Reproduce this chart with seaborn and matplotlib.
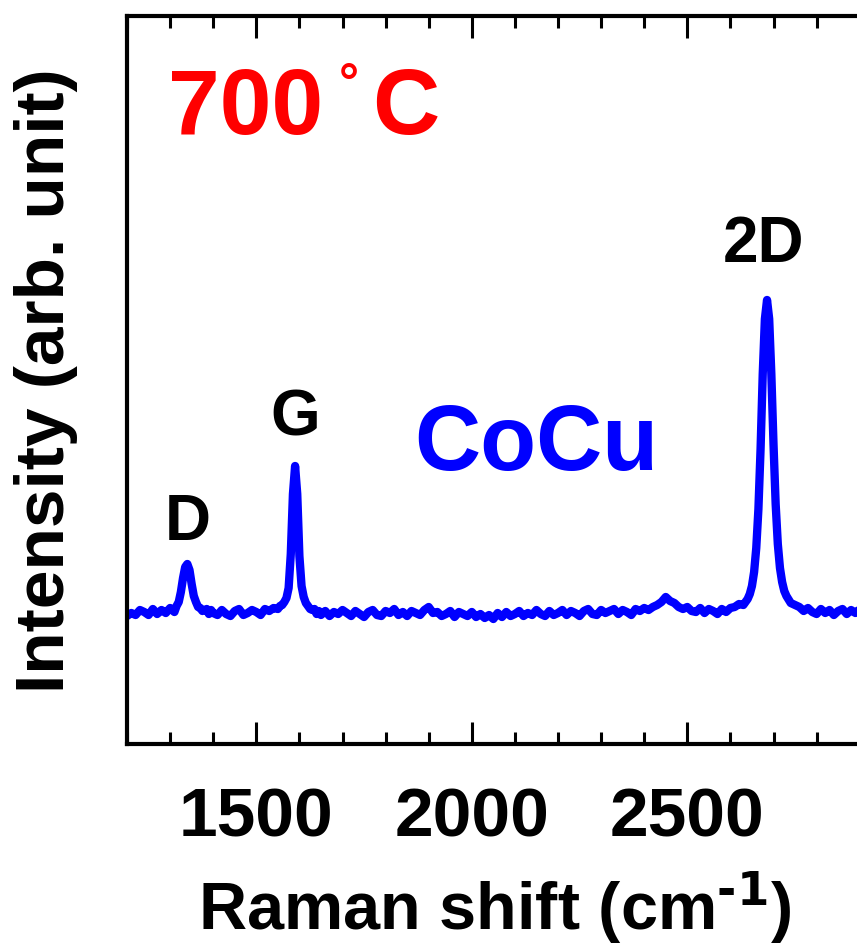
import matplotlib
matplotlib.use("Agg")
import matplotlib.pyplot as plt
import seaborn as sns
import pandas as pd
from matplotlib.ticker import MultipleLocator

# ---- data (intensity in arbitrary units) ----
raman_shift = [
    1200, 1210, 1220, 1230, 1240, 1250, 1260, 1270, 1280, 1290, 1300,
    1305, 1310, 1315, 1320, 1325, 1330, 1335, 1340, 1345, 1350, 1355, 1360,
    1365, 1370, 1375, 1380, 1385, 1390, 1395, 1400,
    1410, 1420, 1430, 1440, 1450, 1460, 1470, 1480, 1490, 1500, 1510, 1520,
    1530, 1540, 1550,
    1555, 1560, 1565, 1570, 1575, 1580, 1585, 1590, 1595, 1600, 1605, 1610,
    1615, 1620, 1625, 1630, 1635, 1640, 1645, 1650,
    1660, 1670, 1680, 1690, 1700, 1710, 1720, 1730, 1740, 1750, 1760, 1770,
    1780, 1790, 1800, 1810, 1820, 1830, 1840, 1850, 1860, 1870, 1880, 1890,
    1900, 1910, 1920, 1930, 1940, 1950, 1960, 1970, 1980, 1990, 2000, 2010,
    2020, 2030, 2040, 2050, 2060, 2070, 2080, 2090, 2100, 2110, 2120, 2130,
    2140, 2150, 2160, 2170, 2180, 2190, 2200, 2210, 2220, 2230, 2240, 2250,
    2260, 2270, 2280, 2290, 2300, 2310, 2320, 2330, 2340, 2350, 2360, 2370,
    2380, 2390, 2400,
    2410, 2420, 2430, 2440, 2450, 2460, 2470, 2480, 2490, 2500, 2510, 2520,
    2530, 2540, 2550, 2560, 2570, 2580, 2590, 2600, 2610, 2620, 2630,
    2640, 2645, 2650, 2655, 2660, 2665, 2670, 2675, 2680, 2685, 2690, 2695,
    2700, 2705, 2710, 2715, 2720, 2725, 2730, 2740, 2750,
    2760, 2770, 2780, 2790, 2800, 2810, 2820, 2830, 2840, 2850, 2860, 2870,
    2880, 2890, 2900,
]
intensity = [
    128, 131, 129, 134, 132, 129, 135, 130, 134, 131, 136,
    134, 132, 138, 142, 152, 166, 177, 180, 174, 160, 148, 142,
    137, 136, 133, 134, 135, 130, 134, 131,
    129, 134, 130, 128, 133, 135, 129, 131, 134, 132, 129, 135,
    133, 136, 135,
    138, 139, 142, 146, 156, 190, 250, 278, 250, 188, 158, 147,
    141, 138, 135, 134, 135, 130, 133, 129,
    133, 128, 132, 130, 134, 131, 128, 133, 130, 127, 132, 134,
    129, 128, 133, 131, 135, 129, 132, 128, 133, 131, 129, 134,
    137, 131, 132, 128, 130, 133, 127, 132, 130, 128, 132, 127,
    130, 126, 129, 125, 131, 127, 132, 128, 130, 133, 128, 131,
    129, 134, 130, 128, 133, 129, 131, 134, 129, 133, 131, 128,
    133, 135, 130, 129, 134, 131, 133, 135, 130, 134, 132, 129,
    135, 133, 136,
    134, 137, 139, 142, 147, 143, 141, 137, 135, 137, 133, 132,
    136, 131, 135, 133, 130, 135, 132, 136, 137, 140, 139,
    145, 150, 158, 172, 196, 235, 295, 370, 425, 444, 425, 370,
    300, 240, 200, 176, 162, 153, 148, 141, 139,
    137, 133, 136, 132, 130, 135, 131, 134, 129, 133, 135, 130,
    134, 131, 135,
]
peak_names = ["D", "G", "2D"]
peak_pos = [1340, 1590, 2676]
sample_name = "CoCu"
temperature = "700"
x_ticks = [1500, 2000, 2500]

df = pd.DataFrame({"shift": raman_shift, "intensity": intensity})

sns.set_style("white")
plt.rcParams["font.family"] = ["Liberation Sans", "DejaVu Sans"]
plt.rcParams["font.weight"] = "bold"
plt.rcParams["text.color"] = "black"
plt.rcParams["axes.labelcolor"] = "black"
plt.rcParams["xtick.color"] = "black"
plt.rcParams["ytick.color"] = "black"
plt.rcParams["mathtext.default"] = "regular"

W, H = 857, 945
fig = plt.figure(figsize=(W / 100, H / 100), dpi=100)

# axes extends beyond the right edge (cropped like the reference)
left, right, top, bottom = 127, 127 + 1800 * 0.431, 17, 745
ax = fig.add_axes([left / W, 1 - bottom / H, (right - left) / W, (bottom - top) / H])

sns.lineplot(data=df, x="shift", y="intensity", ax=ax, color="#0000ff",
             linewidth=6.0, sort=False, estimator=None)

ax.set_xlim(1200, 3000)
ax.set_ylim(0, 728)
ax.set_xticks(x_ticks)
ax.xaxis.set_minor_locator(MultipleLocator(100))
ax.set_yticks([])
for s in ax.spines.values():
    s.set_linewidth(3)
    s.set_color("black")
ax.tick_params(axis="x", which="both", direction="in", top=True, bottom=True,
               width=2.2, color="black", labelcolor="black")
ax.tick_params(axis="x", which="major", length=16, labelsize=50, pad=30)
ax.tick_params(axis="x", which="minor", length=8.5)
for lab in ax.get_xticklabels():
    lab.set_fontweight("bold")

ax.set_xlabel("Raman shift (cm$^{\\text{-1}}$)", fontsize=48,
              fontweight="bold", color="black")
ax.xaxis.set_label_coords((495 - left) / (right - left), -0.170)
ax.xaxis.label.set_va("top")
ax.set_ylabel("Intensity (arb. unit)", fontsize=50, fontweight="bold",
              labelpad=35, color="black")

# peak labels
label_base = [205, 310, 483]
for name, xp, yb in zip(peak_names, peak_pos, label_base):
    ax.text(xp, yb, name, ha="center", va="baseline", fontsize=46,
            fontweight="bold", color="black")

ax.text(2150, 275, sample_name, ha="center", va="baseline", fontsize=66,
        fontweight="bold", color="#0000ff")

# temperature label
fig.text(168 / W, 1 - 134 / H, temperature, ha="left", va="baseline",
         fontsize=67, fontweight="bold", color="#ff0000")
fig.text(348.5 / W, 1 - 98 / H, "\u00b0", ha="center", va="baseline",
         fontsize=36, fontweight="bold", color="#ff0000")
fig.text(372 / W, 1 - 134 / H, "C", ha="left", va="baseline",
         fontsize=67, fontweight="bold", color="#ff0000")

fig.savefig("out.png", dpi=100)
